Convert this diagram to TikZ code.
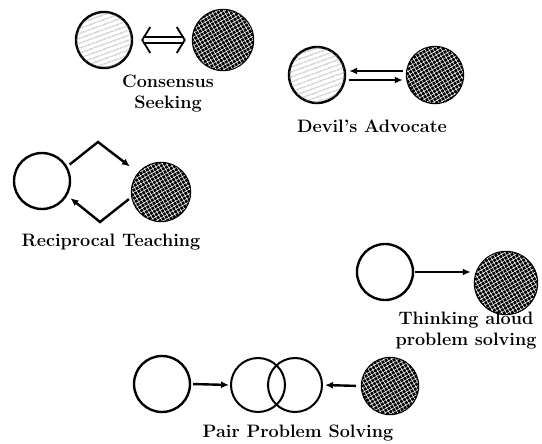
\documentclass[tikz,border=0pt]{standalone}
\usepackage{fontspec}
\usetikzlibrary{arrows.meta}
\usetikzlibrary{patterns.meta}

\tikzset{
  pupil/.style={circle, draw, line width=2.4pt, minimum size=56pt, inner sep=0pt, fill=white},
  speckled/.style={pupil, postaction={pattern={Lines[angle=20,distance=4pt,line width=0.6pt]}, pattern color=black!45}},
  tutor/.style={pupil, fill=black, postaction={pattern={Hatch[angle=30,distance=3.6pt,line width=0.55pt]}, pattern color=white}},
  lbl/.style={font=\fontsize{18}{21}\selectfont\bfseries, align=center},
  arr/.style={-{Latex[length=8pt,width=7pt]}, line width=2.4pt},
  chevron/.tip={Straight Barb[length=8pt,width=26pt,line width=1.8pt]}
}

\begin{document}
\begin{tikzpicture}[x=1pt,y=-1pt]
                \useasboundingbox (0,0) rectangle (542,444);
                \node[speckled] (consL) at (104,40) {};
                \node[tutor, minimum size=60pt] (consR) at (223,40) {};
                \node[lbl] (consTxt) at (168,94) {Consensus\\Seeking};
                \draw[{chevron}-{chevron}, double, double distance=4pt, line width=1.6pt, shorten <=8pt, shorten >=6pt] (consL) to (consR);
                \node[speckled] (devL) at (317,75) {};
                \node[tutor] (devR) at (435,75) {};
                \node[lbl] (devTxt) at (372,126) {Devil's Advocate};
                \draw[arr, shorten >=3pt, shorten <=3pt] ([yshift=4pt]devR.west) to ([yshift=4pt]devL.east);
                \draw[arr, shorten >=3pt, shorten <=3pt] ([yshift=-5pt]devL.east) to ([yshift=-5pt]devR.west);
                \node[pupil] (recL) at (42,181) {};
                \node[tutor, minimum size=58pt] (recR) at (161,192) {};
                \node[lbl] (recTxt) at (111,242) {Reciprocal Teaching};
                \coordinate (recTop) at (98,142);
                \coordinate (recBot) at (100,222);
                \draw[arr, shorten <=3pt, shorten >=10pt] (recL.30) -- (recTop) -- (recR.140);
                \draw[arr, shorten <=3pt, shorten >=4pt] (recR.190) -- (recBot) -- (recL.-30);
                \node[pupil] (thinkL) at (385,272) {};
                \node[tutor, minimum size=62pt] (thinkR) at (506,283) {};
                \node[lbl] (thinkTxt) at (466,331) {Thinking aloud\\problem solving};
                \draw[arr, shorten <=1pt, shorten >=3pt] (thinkL.east) to (thinkL.east -| thinkR.west);
                \node[pupil] (pairL) at (162,384) {};
                \node[circle, draw, line width=2pt, minimum size=54pt] (pairA) at (258,385) {};
                \node[circle, draw, line width=2pt, minimum size=54pt] (pairB) at (295,385) {};
                \node[tutor] (pairR) at (390,386) {};
                \node[lbl] (pairTxt) at (298,433) {Pair Problem Solving};
                \draw[arr, shorten <=2pt, shorten >=1pt] (pairL.east) to (pairA.west);
                \draw[arr, shorten <=5pt, shorten >=2pt] (pairR.west) to (pairB.east);
            \end{tikzpicture}
\end{document}
